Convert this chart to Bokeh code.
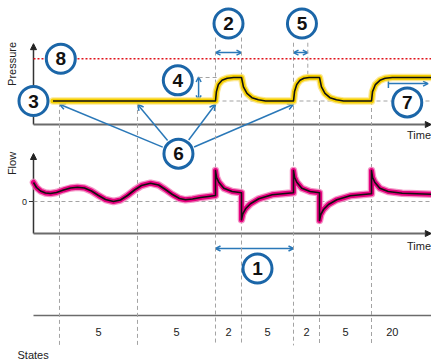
import math
from bokeh.plotting import figure
from bokeh.models import Range1d, Arrow, NormalHead, OpenHead, TeeHead
from bokeh.core.properties import value
from bokeh.embed import file_html
from bokeh.resources import INLINE

# ---------------- data ----------------
state_labels = ["5", "5", "2", "5", "2", "5", "20"]
state_edges = [2, 8, 14, 16, 20, 22, 26, 29.2]

peep = 5.0
p_insp = 10.0
p_max = 14.0

pressure_t = [1.5, 14, 14.07, 14.22, 14.5, 14.9, 15.4, 16,
              16.15, 16.42, 16.8, 17.3, 17.85,
              20, 20.08, 20.25, 20.5, 20.8, 21.2, 22,
              22.15, 22.42, 22.8, 23.3, 23.85,
              26, 26.08, 26.3, 26.65, 27.05, 27.6, 30.6]
pressure_v = [5, 5, 7.0, 8.5, 9.4, 9.85, 10, 10,
              8.0, 6.6, 5.7, 5.25, 5,
              5, 7.0, 8.5, 9.4, 9.85, 10, 10,
              8.0, 6.6, 5.7, 5.25, 5,
              5, 7.0, 8.5, 9.4, 9.85, 10, 10]

flow_t = [0, 0.23, 0.54, 0.92, 1.31, 1.77, 2.31, 2.85, 3.38, 3.92, 4.46, 5.0, 5.54, 6.15,
          6.69, 7.23, 7.77, 8.31, 9.0, 9.62, 10.15, 10.69, 11.23, 11.69, 12.23, 12.85, 13.46, 14,
          14, 14.08, 14.25, 14.64, 15.28, 16,
          16, 16.1, 16.31, 16.69, 17.33, 18.36, 20,
          20, 20.08, 20.25, 20.64, 21.28, 22,
          22, 22.1, 22.31, 22.69, 23.33, 24.36, 26,
          26, 26.08, 26.25, 26.64, 27.28, 28.36, 30.6]
flow_v = [19, 14, 10.5, 8.5, 8, 9, 11.5, 13.5, 14.3, 13.5, 10.5, 6, 2, 0,
          1.5, 6, 11.5, 16, 18.3, 16.5, 12, 7, 3, 1.7, 2.5, 4, 5, 6,
          31, 24.3, 19.3, 13.3, 10, 8.7,
          -18.3, -12.3, -7.3, -2.3, 2.7, 6.7, 8.7,
          31, 24.3, 19.3, 13.3, 10, 8.7,
          -19, -13, -8, -3, 1.7, 5.7, 7.7,
          31, 24.3, 19.3, 13.3, 10, 8.3, 7.3]

# ---------------- layout / style ----------------
W, H = 431, 362
T0, T1 = -2.538, 30.615
P0, P1 = -50.638, 26.383
F0, F1 = -161.0, 201.0
S0, S1 = -2.9375, 19.6875
T_END = 30.6

BLUE = "#1b66a8"
ABLUE = "#2a78b8"
GRAY = "#a3a3a3"
AXG = "#6b6b6b"
FONT = value("Liberation Sans")

p = figure(width=W, height=H, x_range=Range1d(T0, T1), y_range=Range1d(S0, S1),
           output_backend="svg", toolbar_location=None, min_border=0,
           x_axis_type=None, y_axis_type=None, outline_line_color=None,
           background_fill_color="white", border_fill_color="white")
p.extra_y_ranges = {"pressure": Range1d(P0, P1), "flow": Range1d(F0, F1)}

px_t = W / (T1 - T0)
px_p = H / (P1 - P0)

# ---- axes (drawn as arrows under everything) ----
def axis_arrow(x0, y0, x1, y1, rng, color, lw):
    p.add_layout(Arrow(x_start=x0, y_start=y0, x_end=x1, y_end=y1,
                       end=NormalHead(size=6, fill_color="#222", line_color="#222", line_width=1),
                       line_color=color, line_width=lw, y_range_name=rng, level="underlay"))

axis_arrow(0, 0, 0, 17.2, "pressure", "#333", 1.5)
axis_arrow(0, 0, T_END, 0, "pressure", AXG, 2)
axis_arrow(0, -32, 0, 48, "flow", "#333", 1.5)
axis_arrow(0, -32, T_END, -32, "flow", AXG, 2)
p.segment(x0=[0], y0=[0], x1=[T_END], y1=[0], line_color=AXG, line_width=1.5)

# ---- vertical dashed state boundaries (pressure units) ----
vl_t = state_edges[:-1]
vl_top = [4.6, 4.6, 18.5, 18.5, 17.4, 5.0, 5.0]
p.segment(x0=vl_t, y0=vl_top, x1=vl_t, y1=[-47.0] * len(vl_t), y_range_name="pressure",
          line_color=GRAY, line_width=1, line_dash="4 3")
# rise-time marker line
p.segment(x0=[21.1], y0=[17.4], x1=[21.1], y1=[10.3], y_range_name="pressure",
          line_color=GRAY, line_width=1, line_dash="4 3")

# ---- reference lines ----
p.segment(x0=[0], y0=[p_max], x1=[T_END], y1=[p_max], y_range_name="pressure",
          line_color="#e0141c", line_width=1.5, line_dash="2 2")
p.segment(x0=[14], y0=[peep], x1=[T_END], y1=[peep], y_range_name="pressure",
          line_color=GRAY, line_width=1, line_dash="4 3")
p.segment(x0=[12.7], y0=[p_insp], x1=[14.1], y1=[p_insp], y_range_name="pressure",
          line_color=GRAY, line_width=1, line_dash="4 3")
p.segment(x0=[0], y0=[0], x1=[T_END], y1=[0], y_range_name="flow",
          line_color=GRAY, line_width=1, line_dash="4 3")
p.segment(x0=[-0.35], y0=[0], x1=[0], y1=[0], y_range_name="flow",
          line_color="#333", line_width=1.2)

# ---- curves ----
p.line(pressure_t, pressure_v, y_range_name="pressure", line_color="#fbe27a",
       line_width=7.5, line_join="round", line_cap="round", alpha=0.8)
p.line(pressure_t, pressure_v, y_range_name="pressure", line_color="#f5cf00",
       line_width=5, line_join="round", line_cap="round")
p.line(pressure_t, pressure_v, y_range_name="pressure", line_color="#111",
       line_width=1.6, line_join="round")

p.line(flow_t, flow_v, y_range_name="flow", line_color="#f07ab8",
       line_width=7.5, line_join="round", line_cap="round", alpha=0.8)
p.line(flow_t, flow_v, y_range_name="flow", line_color="#e5007e",
       line_width=5, line_join="round", line_cap="round")
p.line(flow_t, flow_v, y_range_name="flow", line_color="#111",
       line_width=1.6, line_join="round")

# ---- axis labels ----
p.text(x=[-1.615], y=[12.9], text=["Pressure"], angle=math.pi / 2, y_range_name="pressure",
       text_font=FONT, text_font_size="11px", text_align="center", text_baseline="middle",
       text_color="#222")
p.text(x=[-1.615], y=[38], text=["Flow"], angle=math.pi / 2, y_range_name="flow",
       text_font=FONT, text_font_size="11px", text_align="center", text_baseline="middle",
       text_color="#222")
p.text(x=[30.58], y=[-2.3], text=["Time"], y_range_name="pressure",
       text_font=FONT, text_font_size="11px", text_align="right", text_baseline="middle",
       text_color="#222")
p.text(x=[30.58], y=[-44], text=["Time"], y_range_name="flow",
       text_font=FONT, text_font_size="11px", text_align="right", text_baseline="middle",
       text_color="#222")
p.text(x=[-0.5], y=[0], text=["0"], y_range_name="flow",
       text_font=FONT, text_font_size="9px", text_align="right", text_baseline="middle",
       text_color="#222")

# ---- states row ----
mids = [(a + b) / 2 for a, b in zip(state_edges[:-1], state_edges[1:])]
p.text(x=mids, y=[-1] * len(mids), text=state_labels,
       text_font=FONT, text_font_size="11px", text_align="center", text_baseline="middle",
       text_color="#222")
p.text(x=[-1.23], y=[-2.44], text=["States"],
       text_font=FONT, text_font_size="11px", text_align="left", text_baseline="middle",
       text_color="#222")

# ---- callout arrows ----
def callout(x0, y0, x1, y1, rng, both=True, tee=False):
    start = None
    if both:
        start = OpenHead(size=5, line_color=ABLUE, line_width=1.5)
    if tee:
        start = TeeHead(size=9, line_color=ABLUE, line_width=1.5)
    p.add_layout(Arrow(x_start=x0, y_start=y0, x_end=x1, y_end=y1,
                       start=start, end=OpenHead(size=5, line_color=ABLUE, line_width=1.5),
                       line_color=ABLUE, line_width=1.5, y_range_name=rng, level="underlay"))

callout(14, 15.3, 16, 15.3, "pressure")            # 2: inspiration time
callout(20, 15.3, 21.1, 15.3, "pressure")          # 5: rise time
callout(12.7, 5.15, 12.7, 10.1, "pressure")        # 4: pressure above PEEP
callout(27.3, 8.7, 30.35, 8.7, "pressure", both=False, tee=True)  # 7
callout(14, -47, 20, -47, "flow")                  # 1: breath period

c6 = (11.15, -6.2)
targets6 = [(2, 4.3), (8, 4.3), (14, 4.3), (20, 4.3)]
for tx, ty in targets6:
    dx = (tx - c6[0]) * px_t
    dy = (ty - c6[1]) * px_p
    L = math.hypot(dx, dy)
    r = 17.0
    sx = c6[0] + dx / L * r / px_t
    sy = c6[1] + dy / L * r / px_p
    p.add_layout(Arrow(x_start=sx, y_start=sy, x_end=tx, y_end=ty,
                       end=OpenHead(size=6, line_color=ABLUE, line_width=1.5),
                       line_color=ABLUE, line_width=1.5, y_range_name="pressure", level="underlay"))

# ---- numbered circles ----
num_p = {"8": (2.1, 14.0), "3": (0.0, 5.0), "4": (11.1, 9.4), "2": (15.0, 21.5),
         "5": (20.65, 21.5), "7": (28.75, 4.7), "6": c6}
keys = list(num_p.keys())
px = [num_p[k][0] for k in keys]
py = [num_p[k][1] for k in keys]
p.scatter(px, py, marker="circle", size=29, fill_color="white", line_color=BLUE,
          line_width=3, y_range_name="pressure")
p.text(px, py, text=keys, y_range_name="pressure", text_font=FONT, text_font_style="bold",
       text_font_size="19px", text_align="center", text_baseline="middle", text_color="#111")

p.scatter([17.23], [-67], marker="circle", size=29, fill_color="white", line_color=BLUE,
          line_width=3, y_range_name="flow")
p.text([17.23], [-67], text=["1"], y_range_name="flow", text_font=FONT, text_font_style="bold",
       text_font_size="19px", text_align="center", text_baseline="middle", text_color="#111")

open("out.html", "w").write(file_html(p, INLINE))
